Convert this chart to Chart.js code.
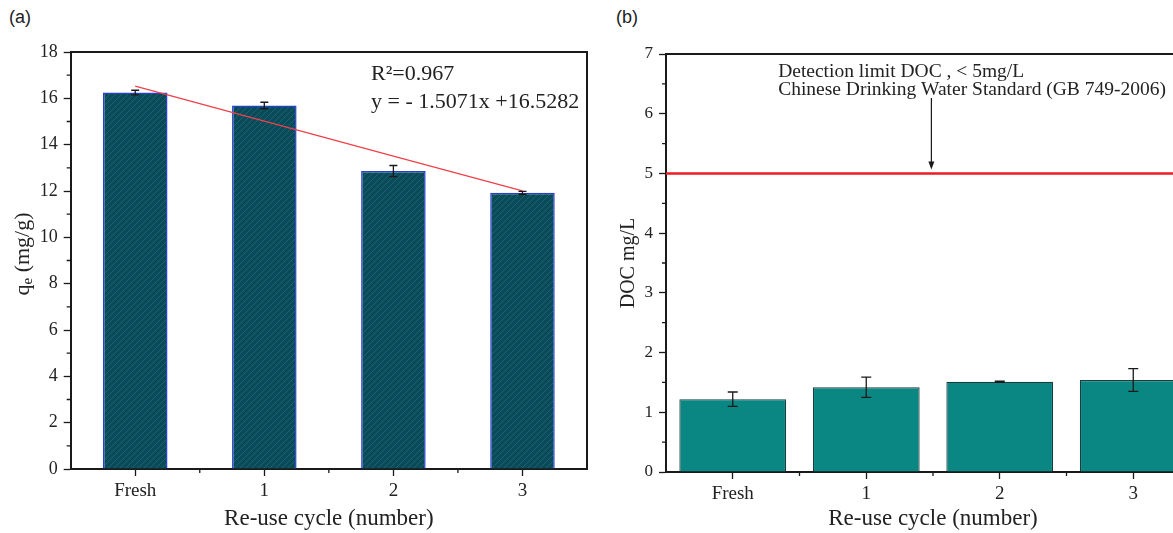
<!DOCTYPE html>
<html>
<head>
<meta charset="utf-8">
<script src="https://cdn.jsdelivr.net/npm/chart.js@4.4.1/dist/chart.umd.min.js"></script>
<style>
  html, body { margin: 0; padding: 0; background: #fff; }
  body { position: relative; width: 1173px; height: 533px; overflow: hidden; }
  canvas { position: absolute; top: 0; }
  #chartA { left: 0; }
  #chartB { left: 600px; }
  .panel { position: absolute; top: 7px; font: 18px "Liberation Sans", Arial, sans-serif; color: #222; }
</style>
</head>
<body>
<div class="panel" style="left:9px">(a)</div>
<div class="panel" style="left:616px">(b)</div>
<canvas id="chartA" width="600" height="533"></canvas>
<canvas id="chartB" width="600" height="533"></canvas>
<script>
const cycles = ["Fresh", "1", "2", "3"];

// (a) adsorption capacity
const qeValues = [16.25, 15.69, 12.86, 11.92];
const qeErrors = [0.10, 0.14, 0.24, 0.06];
const qeTrend = [16.53, 15.02, 13.51, 12.01];
const qeMin = 0, qeMax = 18, qeStep = 2;
const qeNotes = ["R\u00b2=0.967", "y = - 1.5071x +16.5282"];

// (b) dissolved organic carbon
const docValues = [1.22, 1.42, 1.51, 1.54];
const docErrors = [0.12, 0.17, 0.01, 0.19];
const docLimit = 5;
const docMin = 0, docMax = 7, docStep = 1;
const docNotes = ["Detection limit DOC , < 5mg/L", "Chinese Drinking Water Standard (GB 749-2006)"];

const serif = '"Liberation Serif", "Times New Roman", serif';
const ink = "#1a1a1a";

function hatch(ctx) {
  const c = document.createElement("canvas");
  c.width = 6; c.height = 6;
  const g = c.getContext("2d");
  g.fillStyle = "#0a4b5a";
  g.fillRect(0, 0, 6, 6);
  g.strokeStyle = "#1c6272";
  g.lineWidth = 1;
  g.beginPath();
  g.moveTo(-1, 7); g.lineTo(7, -1);
  g.moveTo(-4, 4); g.lineTo(4, -4);
  g.moveTo(2, 10); g.lineTo(10, 2);
  g.stroke();
  return ctx.createPattern(c, "repeat");
}

function errorBars(chart, values, errs, cap) {
  const { ctx, scales: { x, y } } = chart;
  ctx.save();
  ctx.strokeStyle = ink;
  ctx.lineWidth = 1.3;
  values.forEach((v, i) => {
    const px = x.getPixelForValue(i);
    const top = y.getPixelForValue(v + errs[i]);
    const bot = y.getPixelForValue(v - errs[i]);
    ctx.beginPath();
    ctx.moveTo(px, top); ctx.lineTo(px, bot);
    ctx.moveTo(px - cap, top); ctx.lineTo(px + cap, top);
    ctx.moveTo(px - cap, bot); ctx.lineTo(px + cap, bot);
    ctx.stroke();
  });
  ctx.restore();
}

function frame(chart, minorY, yMin, yMax) {
  const { ctx, chartArea: a, scales: { x, y } } = chart;
  ctx.save();
  ctx.strokeStyle = ink;
  ctx.lineWidth = 2;
  ctx.beginPath();
  ctx.moveTo(a.left, a.top); ctx.lineTo(a.right, a.top); ctx.lineTo(a.right, a.bottom);
  ctx.stroke();
  ctx.lineWidth = 1.3;
  ctx.beginPath();
  for (let v = yMin + minorY; v < yMax; v += minorY * 2) {
    const py = y.getPixelForValue(v);
    ctx.moveTo(a.left, py); ctx.lineTo(a.left - 4, py);
  }
  for (let i = 1; i < cycles.length; i++) {
    const px = x.getPixelForDecimal(i / cycles.length);
    ctx.moveTo(px, a.bottom); ctx.lineTo(px, a.bottom + 4);
  }
  ctx.stroke();
  ctx.restore();
}

function axisOpts(min, max, step, tickSize, width) {
  return {
    min, max,
    border: { color: ink, width: 2 },
    grid: { drawOnChartArea: false, drawTicks: true, tickLength: 7, tickColor: ink, tickWidth: 1.3 },
    ticks: { stepSize: step, color: "#222", font: { family: serif, size: tickSize }, padding: 6 },
    afterFit(s) { s.width = width; }
  };
}

function xOpts(height, tickSize, titleSize) {
  return {
    offset: true,
    border: { color: ink, width: 2 },
    grid: { offset: false, drawOnChartArea: false, drawTicks: true, tickLength: 7, tickColor: ink, tickWidth: 1.3 },
    ticks: { color: "#222", font: { family: serif, size: tickSize }, padding: 4 },
    title: { display: true, text: "Re-use cycle (number)", color: "#222", font: { family: serif, size: titleSize }, padding: { top: 0, bottom: 0 } },
    afterFit(s) { s.height = height; }
  };
}

const ctxA = document.getElementById("chartA").getContext("2d");
new Chart(ctxA, {
  data: {
    labels: cycles,
    datasets: [
      {
        type: "line",
        data: qeTrend,
        borderColor: "#f0404a",
        borderWidth: 1.3,
        pointRadius: 0,
        order: 0
      },
      {
        type: "bar",
        data: qeValues,
        backgroundColor: hatch(ctxA),
        borderColor: "#2840d0",
        borderWidth: 1.5,
        barPercentage: 0.5,
        categoryPercentage: 1,
        order: 1
      }
    ]
  },
  options: {
    responsive: false,
    animation: false,
    layout: { padding: { top: 52, right: 13, left: 0, bottom: 0 } },
    plugins: { legend: { display: false }, tooltip: { enabled: false } },
    scales: {
      x: xOpts(64, 19, 23),
      y: axisOpts(qeMin, qeMax, qeStep, 18, 70.7)
    }
  },
  plugins: [{
    id: "decorA",
    afterDatasetsDraw(chart) {
      errorBars(chart, qeValues, qeErrors, 4);
    },
    afterDraw(chart) {
      frame(chart, 1, qeMin, qeMax);
      const { ctx, chartArea: a } = chart;
      ctx.save();
      ctx.fillStyle = "#222";
      ctx.font = "22px " + serif;
      ctx.textBaseline = "alphabetic";
      ctx.fillText(qeNotes[0], 371, 80);
      ctx.fillText(qeNotes[1], 371, 108);
      // y axis title with subscript
      ctx.translate(23, 254);
      ctx.rotate(-Math.PI / 2);
      ctx.font = "22px " + serif;
      const wq = ctx.measureText("q").width;
      ctx.font = "15px " + serif;
      const we = ctx.measureText("e").width;
      ctx.font = "22px " + serif;
      const wr = ctx.measureText(" (mg/g)").width;
      let x0 = -(wq + we + wr) / 2;
      ctx.textBaseline = "middle";
      ctx.fillText("q", x0, 0);
      ctx.font = "15px " + serif;
      ctx.fillText("e", x0 + wq, 5);
      ctx.font = "22px " + serif;
      ctx.fillText(" (mg/g)", x0 + wq + we, 0);
      ctx.restore();
    }
  }]
});

const ctxB = document.getElementById("chartB").getContext("2d");
new Chart(ctxB, {
  type: "bar",
  data: {
    labels: cycles,
    datasets: [{
      data: docValues,
      backgroundColor: "#0a8683",
      borderColor: "#1c3d3d",
      borderWidth: 1.2,
      barPercentage: 0.8,
      categoryPercentage: 1
    }]
  },
  options: {
    responsive: false,
    animation: false,
    layout: { padding: { top: 54, right: -15, left: 0, bottom: 0 } },
    plugins: { legend: { display: false }, tooltip: { enabled: false } },
    scales: {
      x: xOpts(61, 19, 23),
      y: Object.assign(axisOpts(docMin, docMax, docStep, 17, 66), {
        title: { display: true, text: "DOC mg/L", color: "#222", font: { family: serif, size: 20 }, padding: { top: 17, bottom: 0 } }
      })
    }
  },
  plugins: [{
    id: "decorB",
    afterDatasetsDraw(chart) {
      errorBars(chart, docValues, docErrors, 5);
      const { ctx, chartArea: a, scales: { x, y } } = chart;
      const py = y.getPixelForValue(docLimit);
      ctx.save();
      ctx.strokeStyle = "#ec1c24";
      ctx.lineWidth = 2.5;
      ctx.beginPath();
      ctx.moveTo(a.left, py); ctx.lineTo(a.right, py);
      ctx.stroke();
      // arrow to the limit line
      const ax = x.getPixelForDecimal(0.497);
      ctx.strokeStyle = ink;
      ctx.lineWidth = 1.2;
      ctx.beginPath();
      ctx.moveTo(ax, 98); ctx.lineTo(ax, py - 8);
      ctx.stroke();
      ctx.fillStyle = ink;
      ctx.beginPath();
      ctx.moveTo(ax - 3, py - 12); ctx.lineTo(ax + 3, py - 12); ctx.lineTo(ax, py - 4);
      ctx.closePath();
      ctx.fill();
      ctx.fillStyle = "#222";
      ctx.font = "19.5px " + serif;
      const tx = x.getPixelForDecimal(0.21);
      ctx.fillText(docNotes[0], tx, 77);
      ctx.fillText(docNotes[1], tx, 95);
      ctx.restore();
    },
    afterDraw(chart) {
      frame(chart, 0.5, docMin, docMax);
    }
  }]
});
</script>
</body>
</html>
